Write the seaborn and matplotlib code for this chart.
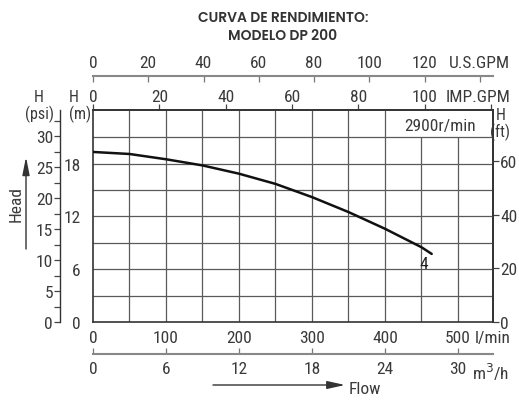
import numpy as np
import pandas as pd
import matplotlib
matplotlib.use("Agg")
import matplotlib.pyplot as plt
import seaborn as sns

# ---- data ----
flow_lpm = [0, 50, 100, 150, 200, 250, 300, 350, 400, 450, 464]
head_m = [19.33, 19.1, 18.5, 17.8, 16.86, 15.7, 14.2, 12.5, 10.6, 8.5, 7.74]

lpm_ticks = [0, 100, 200, 300, 400, 500]
lpm_grid = [50, 100, 150, 200, 250, 300, 350, 400, 450, 500]
m_ticks = [0, 6, 12, 18]
m_grid = [3, 6, 9, 12, 15, 18, 21]
psi_ticks = [0, 5, 10, 15, 20, 25, 30]
psi_minor = [2.5, 7.5, 12.5, 17.5, 22.5, 27.5, 32.5]
ft_ticks = [0, 20, 40, 60]
imp_ticks = [0, 20, 40, 60, 80, 100, 120]
imp_labels = ["0", "20", "40", "60", "80", "100", ""]
us_ticks = [0, 20, 40, 60, 80, 100, 120, 140]
us_labels = ["0", "20", "40", "60", "80", "100", "120", ""]
m3h_ticks = [0, 6, 12, 18, 24, 30]

LPM_PER_IMP = 4.54609
LPM_PER_US = 3.78541
M_PER_PSI = 0.70307
FT_PER_M = 3.28084

sns.set_theme(style="white")
plt.rcParams["font.family"] = ["Roboto Condensed", "DejaVu Sans"]

W, H = 519, 402
fig = plt.figure(figsize=(W / 100, H / 100), dpi=100)


def fx(x):
    return x / W


def fy(y):
    return 1 - y / H


L, R, T, B = 93, 493, 111, 323
ax = fig.add_axes([fx(L), fy(B), (R - L) / W, (B - T) / H])

TXT = "#3a3a3a"
GRID = "#5a5a5a"
FS = 12.5

df = pd.DataFrame({"lpm": flow_lpm, "m": head_m})
ax.set_xlim(0, 548)
ax.set_ylim(0, 24.1)

# grid
for x in lpm_grid:
    top = 21 if x > 400 else 24.1
    ax.plot([x, x], [0, top], color=GRID, lw=0.9, zorder=1)
for y in m_grid:
    ax.axhline(y, color=GRID, lw=0.9, zorder=1)

sns.lineplot(data=df, x="lpm", y="m", ax=ax, color="#111111", lw=1.8, zorder=3)
ax.set_xlabel("")
ax.set_ylabel("")

ax.set_xticks(lpm_ticks)
ax.set_xticks(lpm_grid, minor=True)
ax.set_yticks(m_ticks)
ax.tick_params(axis="both", which="both", direction="out", length=4, width=0.9,
               color="#444444", labelsize=FS, labelcolor=TXT, pad=2)
ax.tick_params(axis="x", which="both", pad=2)
ax.tick_params(axis="y", which="major", pad=5)
for s in ax.spines.values():
    s.set_visible(True)
    s.set_color("#333333")
    s.set_linewidth(1.2)

# IMP.GPM (top edge)
top = ax.secondary_xaxis("top", functions=(lambda x: x / LPM_PER_IMP, lambda x: x * LPM_PER_IMP))
top.set_xticks(imp_ticks, labels=imp_labels)
top.tick_params(direction="out", length=4, width=0.9, color="#444444",
                labelsize=FS, labelcolor=TXT, pad=0)
top.spines["top"].set_color("#333333")

# U.S.GPM (separate line above)
us = ax.secondary_xaxis(1 + 34 / 212, functions=(lambda x: x / LPM_PER_US, lambda x: x * LPM_PER_US))
us.set_xticks(us_ticks, labels=us_labels)
us.tick_params(direction="in", length=4, width=0.9, color="#777777",
               labelsize=FS, labelcolor=TXT, pad=4)
us.spines["top"].set_color("#888888")
us.spines["top"].set_linewidth(1.5)

# m3/h (below)
m3 = ax.secondary_xaxis(-32 / 212, functions=(lambda x: x * 0.06, lambda x: x / 0.06))
m3.set_xticks(m3h_ticks)
m3.tick_params(direction="in", length=4, width=0.9, color="#777777",
               labelsize=FS, labelcolor=TXT, pad=5)
m3.spines["bottom"].set_color("#888888")
m3.spines["bottom"].set_linewidth(1.5)

# psi (far left)
psi = ax.secondary_yaxis(-33 / 400, functions=(lambda m: m / M_PER_PSI, lambda p: p * M_PER_PSI))
psi.set_yticks(psi_ticks)
psi.set_yticks(psi_minor, minor=True)
psi.tick_params(which="both", direction="out", length=4, width=0.9, color="#444444",
                labelsize=FS, labelcolor=TXT, pad=1)
psi.spines["left"].set_color("#333333")
psi.spines["left"].set_linewidth(1.0)

# ft (right)
ft = ax.secondary_yaxis("right", functions=(lambda m: m * FT_PER_M, lambda f: f / FT_PER_M))
ft.set_yticks(ft_ticks)
ft.tick_params(direction="out", length=4, width=0.9, color="#444444",
               labelsize=FS, labelcolor=TXT, pad=1)

# texts
kw = dict(color=TXT, fontsize=FS, ha="center", va="center")
hk = dict(color=TXT, fontsize=11.5, ha="center", va="center")
fig.text(fx(479), fy(63), "U.S.GPM", **kw)
fig.text(fx(478), fy(97), "IMP.GPM", **kw)
fig.text(fx(493), fy(339), "l/min", **kw)
fig.text(fx(491), fy(372), "m$^3$/h", **kw)
fig.text(fx(39), fy(98), "H", **hk)
fig.text(fx(39), fy(114), "(psi)", **hk)
fig.text(fx(74), fy(98), "H", **hk)
fig.text(fx(80), fy(114), "(m)", **hk)
fig.text(fx(501), fy(115), "H", **hk)
fig.text(fx(500), fy(132), "(ft)", **hk)
fig.text(fx(440), fy(126), "2900r/min", **kw)
ax.text(453, 6.6, "4", color="#222222", fontsize=FS, ha="center", va="center")

tkw = dict(color="#333333", fontsize=10, fontweight="semibold", ha="center", va="center",
           family=["Poppins", "DejaVu Sans"])
fig.text(fx(283), fy(18), "CURVA DE RENDIMIENTO:", **tkw)
fig.text(fx(283), fy(37), "MODELO DP 200", **tkw)

fig.text(fx(16), fy(204), "Head", rotation=90, **kw)
ax.annotate("", xy=(fx(26), fy(158)), xytext=(fx(26), fy(250)),
            xycoords="figure fraction", textcoords="figure fraction",
            arrowprops=dict(arrowstyle="-|>,head_length=0.9,head_width=0.18",
                            color="#333333", lw=1.0, shrinkA=0, shrinkB=0))
fig.text(fx(349), fy(390), "Flow", color=TXT, fontsize=FS, ha="left", va="center")
ax.annotate("", xy=(fx(345), fy(386)), xytext=(fx(213), fy(386)),
            xycoords="figure fraction", textcoords="figure fraction",
            arrowprops=dict(arrowstyle="-|>,head_length=0.9,head_width=0.2",
                            color="#333333", lw=1.0, shrinkA=0, shrinkB=0))

fig.savefig("out.png", dpi=100, facecolor="white")
